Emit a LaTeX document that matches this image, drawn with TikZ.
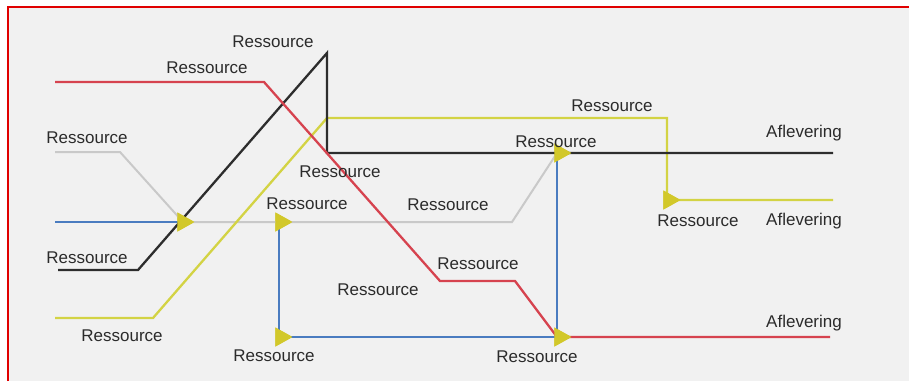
\documentclass[tikz,border=0pt]{standalone}
\usepackage{fontspec}
\setmainfont{Liberation Sans}
\usetikzlibrary{shapes.geometric}

\definecolor{framered}{HTML}{E00000}
\definecolor{paper}{HTML}{F1F1F1}
\definecolor{flowred}{HTML}{D6434F}
\definecolor{flowblack}{HTML}{2D2D2D}
\definecolor{flowyellow}{HTML}{D3D344}
\definecolor{flowgray}{HTML}{C9C9C9}
\definecolor{flowblue}{HTML}{4A7CC0}
\definecolor{pilfill}{HTML}{D2C82A}
\definecolor{textgray}{HTML}{2B2B2B}

\begin{document}
\begin{tikzpicture}[x=1pt,y=-1pt,
    flow/.style={line width=2.3,line join=miter},
    pil/.style={isosceles triangle,isosceles triangle stretches,fill=pilfill,draw=none,
    minimum width=19,minimum height=17,inner sep=0},
    lbl/.style={text=textgray,font=\fontsize{17}{20}\selectfont,inner sep=0}
    ]
    % canvas and frame
    \useasboundingbox (0,0) rectangle (909,381);
    \fill[white] (0,0) rectangle (909,381);
    \fill[paper] (8,7) rectangle (909,381);
    \draw[framered,line width=2.5] (8,381) -- (8,7) -- (909,7);

    % bend points
    \coordinate (red0) at (55,82);   \coordinate (red1) at (264,82);
    \coordinate (red2) at (440,281); \coordinate (red3) at (515,281);
    \coordinate (red4) at (557,337); \coordinate (red5) at (830,337);
    \coordinate (blk0) at (58,270);  \coordinate (blk1) at (138,270);
    \coordinate (blk2) at (327,53);  \coordinate (blk3) at (327,153);
    \coordinate (blk4) at (833,153);
    \coordinate (yel0) at (55,318);  \coordinate (yel1) at (153,318);
    \coordinate (yel2) at (327,118); \coordinate (yel3) at (667,118);
    \coordinate (yel4) at (667,200); \coordinate (yel5) at (833,200);
    \coordinate (gry0) at (55,152);  \coordinate (gry1) at (120,152);
    \coordinate (gry2) at (512,222);
    \coordinate (blu0) at (55,222);
    \coordinate (blu1) at (279,222); \coordinate (blu2) at (279,337);
    \coordinate (blu3) at (557,337); \coordinate (blu4) at (557,153);

    % arrow heads (junctions)
    \node[pil] (p1) at (183,222) {};
    \node[pil] (p2) at (281,222) {};
    \node[pil] (p3) at (560,153) {};
    \node[pil] (p4) at (669,200) {};
    \node[pil] (p5) at (281,337) {};
    \node[pil] (p6) at (560,337) {};

    % flows
    \draw[flow,flowblue] (blu0) -- (p1.center);
    \draw[flow,flowgray,line width=2] (gry0) -- (gry1) -- (p1.center) -- (gry2) -- (blu4);
    \draw[flow,flowblue,line width=2] (blu1) -- (blu2) -- (blu3) -- (blu4);
    \draw[flow,flowyellow] (yel0) -- (yel1) -- (yel2) -- (yel3) -- (yel4) -- (yel5);
    \draw[flow,flowblack] (blk0) -- (blk1) -- (blk2) -- (blk3) -- (blk4);
    \draw[flow,flowred] (red0) -- (red1) -- (red2) -- (red3) -- (red4) -- (red5);

    % heads on top
    \foreach \p in {p1,p2,p3,p4,p5,p6}
        \node[pil] at (\p) {};

    % labels
    \node[lbl] (r1)  at (273,42)  {Ressource};
    \node[lbl] (r2)  at (207,68)  {Ressource};
    \node[lbl] (r3)  at (87,138)  {Ressource};
    \node[lbl] (r4)  at (340,172) {Ressource};
    \node[lbl] (r5)  at (307,204) {Ressource};
    \node[lbl] (r6)  at (448,205) {Ressource};
    \node[lbl] (r7)  at (556,142) {Ressource};
    \node[lbl] (r8)  at (612,106) {Ressource};
    \node[lbl] (r9)  at (698,221) {Ressource};
    \node[lbl] (r10) at (87,258)  {Ressource};
    \node[lbl] (r11) at (122,336) {Ressource};
    \node[lbl] (r12) at (478,264) {Ressource};
    \node[lbl] (r13) at (378,290) {Ressource};
    \node[lbl] (r14) at (274,356) {Ressource};
    \node[lbl] (r15) at (537,357) {Ressource};
    \node[lbl] (f1)  at (804,133) {Aflevering};
    \node[lbl] (f2)  at (804,221) {Aflevering};
    \node[lbl] (f3)  at (804,323) {Aflevering};
\end{tikzpicture}
\end{document}
